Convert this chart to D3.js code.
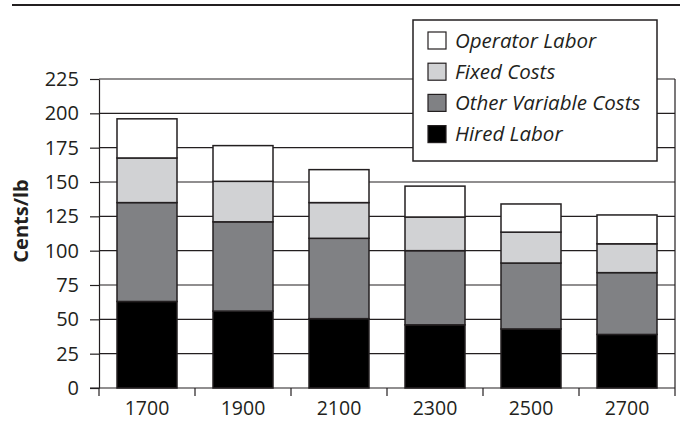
<!DOCTYPE html>
<html>
<head>
<meta charset="utf-8">
<script src="https://cdn.jsdelivr.net/npm/d3@7"></script>
<style>
  html, body { margin: 0; padding: 0; background: #fff; }
  svg { display: block; font-family: "Open Sans", "Noto Sans", sans-serif; }
</style>
</head>
<body>
<svg id="chart" width="680" height="421"></svg>
<script>
// ---- data ----
const categories = ["1700", "1900", "2100", "2300", "2500", "2700"];
const seriesNames = ["Hired Labor", "Other Variable Costs", "Fixed Costs", "Operator Labor"];
const hiredLabor    = [63, 56, 50.5, 46, 43, 39];
const otherVariable = [72, 65, 58.5, 54, 48, 45];
const fixedCosts    = [32.5, 29.5, 26, 24.5, 22.5, 21];
const operatorLabor = [28.5, 26, 24, 22.5, 20.5, 21];
const yTicks = [0, 25, 50, 75, 100, 125, 150, 175, 200, 225];
const yTitle = "Cents/lb";
const legendOrder = ["Operator Labor", "Fixed Costs", "Other Variable Costs", "Hired Labor"];

const colors = {
  "Hired Labor": "#000000",
  "Other Variable Costs": "#808184",
  "Fixed Costs": "#d1d2d4",
  "Operator Labor": "#ffffff"
};

const seriesValues = {
  "Hired Labor": hiredLabor,
  "Other Variable Costs": otherVariable,
  "Fixed Costs": fixedCosts,
  "Operator Labor": operatorLabor
};

const table = categories.map((c, i) => {
  const row = { category: c };
  seriesNames.forEach(s => row[s] = seriesValues[s][i]);
  return row;
});

const svg = d3.select("#chart");
const pL = 99, pR = 675, pT = 79, pB = 388;
const ink = "#231f20";

const x = d3.scaleBand().domain(categories).range([pL, pR])
  .paddingInner(0.375).paddingOuter(0.1875);
const y = d3.scaleLinear().domain([0, 225]).range([pB, pT]);

// top rule (title area)
svg.append("line").attr("x1", 12).attr("x2", 680).attr("y1", 5).attr("y2", 5)
  .attr("stroke", ink).attr("stroke-width", 2);

// gridlines
svg.append("g").selectAll("line").data(yTicks.filter(d => d > 0)).join("line")
  .attr("x1", pL).attr("x2", pR)
  .attr("y1", d => y(d)).attr("y2", d => y(d))
  .attr("stroke", ink).attr("stroke-width", 1.2);

// right border
svg.append("line").attr("x1", pR).attr("x2", pR).attr("y1", pT).attr("y2", pB)
  .attr("stroke", ink).attr("stroke-width", 1.2);

// bars
const stack = d3.stack().keys(seriesNames)(table);
svg.append("g").selectAll("g").data(stack).join("g")
  .attr("fill", d => colors[d.key])
  .selectAll("rect").data(d => d).join("rect")
  .attr("x", d => x(d.data.category))
  .attr("width", x.bandwidth())
  .attr("y", d => y(d[1]))
  .attr("height", d => y(d[0]) - y(d[1]))
  .attr("stroke", ink).attr("stroke-width", 1.5);

// y axis
const yAxis = svg.append("g").attr("transform", `translate(${pL},0)`)
  .call(d3.axisLeft(y).tickValues(yTicks).tickSize(9).tickPadding(11).tickSizeOuter(0));
yAxis.select(".domain").attr("stroke", ink).attr("stroke-width", 1.2);
yAxis.selectAll(".tick line").attr("stroke", ink).attr("stroke-width", 1.2);
yAxis.selectAll(".tick text").attr("font-size", 20).attr("fill", ink)
  .attr("font-family", "'Open Sans', sans-serif");

// x axis
const xAxis = svg.append("g").attr("transform", `translate(0,${pB})`)
  .call(d3.axisBottom(x).tickSize(0).tickPadding(0));
xAxis.select(".domain").remove();
xAxis.selectAll(".tick text").attr("font-size", 19.5).attr("fill", ink)
  .attr("dy", null).attr("y", 26.5)
  .attr("font-family", "'Open Sans', sans-serif");
svg.append("line").attr("x1", pL - 9).attr("x2", pR).attr("y1", pB).attr("y2", pB)
  .attr("stroke", ink).attr("stroke-width", 1.2);
// boundary ticks
const bounds = categories.map(c => x(c) - x.step() * x.paddingOuter()).concat([pR]);
svg.append("g").selectAll("line").data(bounds).join("line")
  .attr("x1", d => d).attr("x2", d => d).attr("y1", pB).attr("y2", pB + 8)
  .attr("stroke", ink).attr("stroke-width", 1.2);

// y title
svg.append("text").attr("transform", `translate(28,221) rotate(-90)`)
  .attr("text-anchor", "middle").attr("font-size", 20).attr("font-weight", "bold")
  .attr("fill", ink).text(yTitle);

// legend
const lg = svg.append("g");
lg.append("rect").attr("x", 413).attr("y", 20).attr("width", 244).attr("height", 141)
  .attr("fill", "#fff").attr("stroke", ink).attr("stroke-width", 1.5);
const li = lg.selectAll("g.item").data(legendOrder).join("g")
  .attr("transform", (d, i) => `translate(428,${40.5 + i * 31.2})`);
li.append("rect").attr("x", 0).attr("y", -8.5).attr("width", 18).attr("height", 17)
  .attr("fill", d => colors[d]).attr("stroke", ink).attr("stroke-width", 1.2);
li.append("text").attr("x", 27).attr("y", 7).attr("font-size", 20.5).attr("font-style", "italic")
  .attr("fill", ink).text(d => d);
</script>
</body>
</html>
